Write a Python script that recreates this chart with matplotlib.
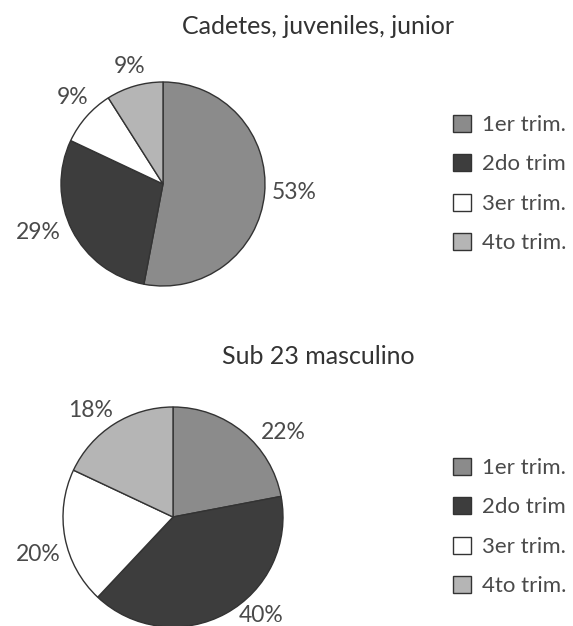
import matplotlib.pyplot as plt

# Data
trimestres = ["1er trim.", "2do trim", "3er trim.", "4to trim."]
colores = ["#8b8b8b", "#3d3d3d", "#ffffff", "#b5b5b5"]

titulo_1 = "Cadetes, juveniles, junior"
valores_1 = [53, 29, 9, 9]

titulo_2 = "Sub 23 masculino"
valores_2 = [22, 40, 20, 18]

# small nudges for the percent labels (pixels, x right / y up)
ajuste_1 = [(4, 3), (-11, 9), (5, 2), (2, -5)]
ajuste_2 = [(23, -21), (22, 22), (0, -12), (-9, -10)]

plt.rcParams['font.family'] = ['Lato', 'DejaVu Sans']

W, H = 573, 626
fig = plt.figure(figsize=(W / 100, H / 100), dpi=100)
ax = fig.add_axes([0, 0, 1, 1])


def draw_pie(values, title, center, radius, title_y, legend_y, ajuste):
    wedges, texts = ax.pie(
        values,
        labels=[f"{v}%" for v in values],
        colors=colores,
        startangle=90,
        counterclock=False,
        center=center,
        radius=radius,
        labeldistance=1.25,
        wedgeprops=dict(edgecolor="#333333", linewidth=1.0),
        textprops=dict(fontsize=16.5, color="#4a4a4a"),
        frame=True,
    )
    for t, (dx, dy) in zip(texts, ajuste):
        x, y = t.get_position()
        t.set_position((x + dx, y + dy))
        t.set_horizontalalignment('center')
        t.set_verticalalignment('center')
    ax.text(318, H - title_y, title, ha='center', va='center',
            fontsize=18, color="#333333")
    fig.legend(wedges, trimestres, loc='center left',
               bbox_to_anchor=(453 / W, 1 - legend_y / H),
               frameon=False, fontsize=16, labelcolor="#4a4a4a",
               borderpad=0, borderaxespad=0,
               handlelength=0.8, handleheight=0.8, handletextpad=0.5,
               labelspacing=0.86)


draw_pie(valores_1, titulo_1, (163, H - 184), 102, 27, 184, ajuste_1)
draw_pie(valores_2, titulo_2, (173, H - 517), 110, 357, 527, ajuste_2)

ax.set_xlim(0, W)
ax.set_ylim(0, H)
ax.set_aspect('equal')
ax.axis('off')

fig.savefig("out.png", dpi=100)
